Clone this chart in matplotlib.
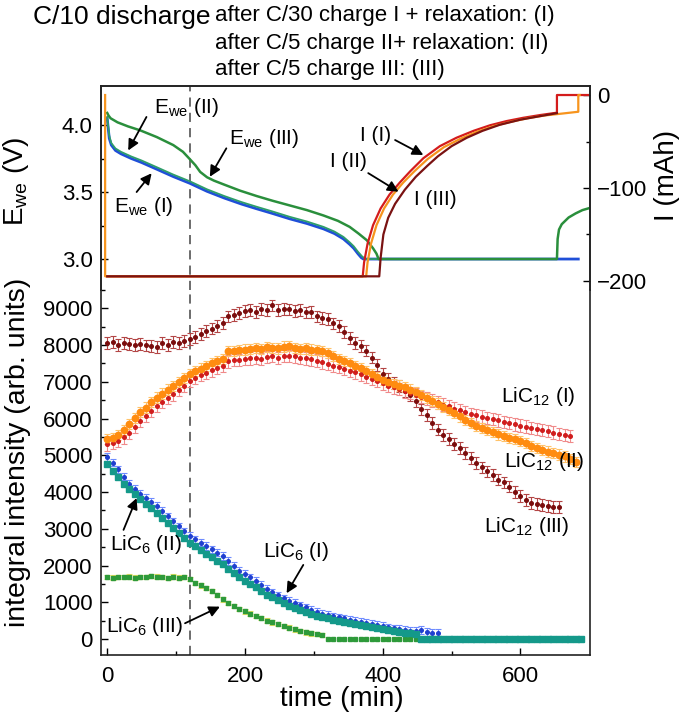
import numpy as np
import matplotlib
matplotlib.use("Agg")
import matplotlib.pyplot as plt

plt.rcParams['font.family'] = ['Liberation Sans', 'DejaVu Sans']
plt.rcParams['mathtext.fontset'] = 'custom'
plt.rcParams['mathtext.rm'] = 'Liberation Sans'
plt.rcParams['mathtext.it'] = 'Liberation Sans:italic'

# ---------------- top panel: potential (V) ----------------
t_E1 = [0, 1, 3, 6, 12, 20, 35, 50, 72, 96, 120, 145, 170, 195, 217, 240, 265, 290, 314,
        330, 343, 352, 358, 364, 369, 372, 450, 550, 650, 684]
E_I = [4.05, 4.00, 3.90, 3.85, 3.81, 3.785, 3.75, 3.72, 3.67, 3.615, 3.565, 3.505, 3.455,
       3.41, 3.375, 3.34, 3.30, 3.265, 3.225, 3.19, 3.15, 3.11, 3.08, 3.04, 3.01, 3.0,
       3.0, 3.0, 3.0, 3.0]
t_E2 = [0, 1, 3, 6, 12, 20, 35, 50, 72, 96, 120, 145, 170, 195, 217, 240, 265, 290, 314,
        330, 343, 352, 358, 364, 370, 375, 450, 550, 650]
E_II = [4.06, 4.01, 3.92, 3.865, 3.825, 3.80, 3.765, 3.735, 3.685, 3.63, 3.58, 3.52, 3.47,
        3.425, 3.39, 3.355, 3.315, 3.28, 3.24, 3.205, 3.165, 3.125, 3.095, 3.055, 3.02, 3.0,
        3.0, 3.0, 3.0]
t_E3 = [0, 2, 5, 15, 30, 48, 72, 96, 110, 120, 128, 135, 145, 155, 170, 193, 217, 240, 265,
        290, 314, 335, 352, 365, 377, 386, 391, 394, 450, 550, 653, 654, 656, 660, 670, 680,
        690, 700]
E_III = [4.09, 4.07, 4.05, 4.02, 3.99, 3.96, 3.91, 3.85, 3.80, 3.745, 3.70, 3.65, 3.61, 3.585,
         3.555, 3.51, 3.47, 3.435, 3.40, 3.365, 3.325, 3.285, 3.24, 3.19, 3.14, 3.08, 3.04,
         3.0, 3.0, 3.0, 3.0, 3.15, 3.22, 3.26, 3.31, 3.34, 3.365, 3.38]

# ---------------- top panel: current (mAh) ----------------
t_I1 = [0, 371, 373, 378, 386, 397, 410, 425, 440, 459, 483, 507, 532, 556, 580, 604, 629,
        653, 653, 698]
I_I = [-195, -195, -180, -160, -140, -122, -107, -94, -82, -68, -55, -46, -38.5, -32.5, -28,
       -24.5, -21.5, -19, 0, 0]
t_I2 = [-3, -3, 376, 378, 383, 391, 402, 415, 430, 446, 465, 489, 513, 537, 561, 585, 610,
        635, 660, 684, 684, 686]
I_II = [0, -195, -195, -180, -160, -140, -122, -107, -94, -82, -69, -56, -47, -39.5, -33.5,
        -29, -25, -22, -20, -18, 0, 0]
t_I3 = [0, 395, 397, 401, 408, 418, 432, 448, 465, 480, 500, 522, 545, 570, 600, 630, 653]
I_III = [-195, -195, -175, -150, -132, -117, -102, -88, -76, -66, -55, -46, -38.5, -32,
         -26.5, -22.5, -19.5]

# ---------------- bottom panel: integral intensities ----------------
t_c12_III = np.arange(0, 657, 8)
c12_III = [8050, 8080, 8000, 8060, 8020, 8010, 8040, 7990, 7980, 7950, 8060, 8000, 8090, 8050,
           8120, 8170, 8230, 8300, 8390, 8450, 8520, 8600, 8780, 8820, 8880, 8920, 8950, 8900,
           8980, 8960, 9080, 8960, 8990, 8970, 8920, 8950, 8890, 8900, 8780, 8740, 8720, 8590,
           8520, 8350, 8200, 8050, 7980, 7850, 7660, 7450, 7220, 7090, 6960, 6880, 6750, 6650,
           6480, 6250, 6100, 5880, 5700, 5560, 5450, 5300, 5200, 5060, 4920, 4800, 4670, 4560,
           4460, 4340, 4260, 4150, 4010, 3890, 3780, 3700, 3680, 3650, 3620, 3600, 3590]

t_c12_II = np.arange(0, 681, 8)
c12_II = [5450, 5480, 5560, 5680, 5850, 6020, 6180, 6300, 6450, 6570, 6680, 6790, 6890, 6990,
          7100, 7200, 7290, 7360, 7430, 7500, 7560, 7620, 7830, 7840, 7870, 7880, 7900, 7920,
          7900, 7950, 7930, 7910, 7960, 7980, 7930, 7900, 7910, 7880, 7860, 7830, 7780, 7700,
          7630, 7560, 7500, 7440, 7370, 7290, 7210, 7130, 7060, 6990, 6950, 6900, 6850, 6790,
          6720, 6640, 6560, 6480, 6410, 6320, 6240, 6150, 6060, 5960, 5880, 5800, 5740, 5680,
          5630, 5570, 5520, 5470, 5440, 5390, 5330, 5260, 5190, 5140, 5100, 5060, 5020, 4970,
          4890, 4810]

t_c12_I = np.arange(0, 673, 8)
c12_I = [5300, 5330, 5400, 5490, 5620, 5780, 5930, 6070, 6210, 6340, 6450, 6560, 6660, 6780,
         6900, 7020, 7100, 7180, 7250, 7310, 7370, 7430, 7560, 7600, 7590, 7630, 7640, 7660,
         7620, 7680, 7700, 7650, 7710, 7700, 7690, 7660, 7640, 7610, 7580, 7530, 7490, 7440,
         7400, 7350, 7300, 7260, 7200, 7140, 7080, 7020, 6960, 6900, 6850, 6800, 6740, 6700,
         6650, 6590, 6540, 6490, 6440, 6380, 6330, 6270, 6220, 6170, 6120, 6090, 6050, 6020,
         5990, 5950, 5910, 5880, 5840, 5810, 5780, 5740, 5710, 5690, 5660, 5620, 5580, 5550,
         5520]

t_c6_I = np.arange(0, 481, 8)
c6_I = [4950, 4800, 4620, 4420, 4230, 4090, 3960, 3840, 3730, 3620, 3480, 3340, 3200, 3070,
        2930, 2800, 2710, 2620, 2530, 2440, 2350, 2260, 2120, 1990, 1860, 1770, 1680, 1590,
        1480, 1370, 1270, 1190, 1110, 1040, 980, 920, 860, 800, 740, 680, 650, 620, 590, 560,
        530, 500, 470, 440, 410, 380, 350, 320, 290, 270, 250, 230, 220, 240, 190, 170, 160]

t_c6_II = np.arange(0, 689, 8)
c6_II = [4750, 4580, 4400, 4230, 4080, 3940, 3800, 3680, 3560, 3440, 3300, 3160, 3020, 2890,
         2750, 2620, 2520, 2420, 2320, 2220, 2120, 2030, 1910, 1790, 1680, 1590, 1500, 1410,
         1310, 1210, 1130, 1050, 970, 900, 850, 790, 740, 680, 630, 590, 560, 530, 500, 470,
         440, 410, 380, 350, 320, 300, 270, 240, 210, 190, 170, 150, 130, 0,
         0, 0, 0, 0, 0, 0, 0, 0, 0, 0, 0, 0, 0, 0, 0, 0, 0, 0, 0, 0, 0, 0, 0, 0, 0, 0, 0, 0, 0]

t_c6_III = np.arange(0, 457, 8)
c6_III = [1680, 1670, 1690, 1680, 1700, 1670, 1690, 1680, 1710, 1700, 1680, 1660, 1700, 1670,
          1680, 1640, 1520, 1460, 1390, 1300, 1190, 1080, 980, 900, 810, 750, 690, 630, 570,
          500, 450, 400, 350, 310, 260, 220, 180, 150, 130, 110,
          0, 0, 0, 0, 0, 0, 0, 0, 0, 0, 0, 0, 0, 0, 0, 0, 0, 0]

err_c12_I = 170
err_c12_II = 140
err_c12_III = 160
err_c6_I = 100
err_c6_III = 60

# ---------------- figure ----------------
W, H = 685, 721
fig = plt.figure(figsize=(W / 100, H / 100), dpi=100)

def fx(px):
    return px / W

def fy(py):
    return 1 - py / H

x0, x1 = 101, 590
y_top, y_mid, y_bot = 86, 290, 655
ax_t = fig.add_axes([fx(x0), fy(y_mid), fx(x1 - x0), (y_mid - y_top) / H])
ax_b = fig.add_axes([fx(x0), fy(y_bot), fx(x1 - x0), (y_bot - y_mid) / H], sharex=ax_t)
ax_i = ax_t.twinx()

XL = (-9, 701)
ax_b.set_xlim(*XL)
ax_t.set_ylim(2.769, 4.291)
ax_i.set_ylim(-209.7, 9.7)
ax_b.set_ylim(-436, 9463)

# styling
TL = 16
for a in (ax_t, ax_b, ax_i):
    for s in a.spines.values():
        s.set_linewidth(1.2)
        s.set_color('#222222')
ax_t.spines['bottom'].set_visible(False)
ax_i.spines['bottom'].set_visible(False)
ax_b.spines['top'].set_visible(False)

ax_t.tick_params(axis='x', which='both', bottom=False, top=False, labelbottom=False)
ax_t.tick_params(axis='y', which='major', direction='in', length=5, width=1, labelsize=TL, pad=6)
ax_t.tick_params(axis='y', which='minor', direction='in', length=3, width=1)
ax_t.set_yticks([3.0, 3.5, 4.0])
ax_t.set_yticklabels(['3.0', '3.5', '4.0'])
ax_t.set_yticks([3.25, 3.75], minor=True)

ax_i.set_yticks([0, -100, -200])
ax_i.set_yticks([-50, -150], minor=True)
ax_i.tick_params(axis='y', which='major', direction='in', length=5, width=1, labelsize=TL, pad=5)
ax_i.tick_params(axis='y', which='minor', direction='in', length=3, width=1)

ax_b.set_xticks([0, 200, 400, 600])
ax_b.set_xticks([100, 300, 500], minor=True)
ax_b.set_yticks(np.arange(0, 9001, 1000))
ax_b.set_yticks(np.arange(500, 9600, 1000), minor=True)
ax_b.tick_params(which='major', direction='in', length=5, width=1, labelsize=TL, pad=6)
ax_b.tick_params(which='minor', direction='in', length=3, width=1)
ax_b.tick_params(axis='x', pad=8)

# dashed line
for a in (ax_t, ax_b):
    a.axvline(120, color='#444444', lw=1.1, ls=(0, (6, 4)), zorder=1)

# potential lines
ax_t.plot(t_E1, E_I, color='#1f4fd8', lw=2.0, zorder=3)
ax_t.plot(t_E2, E_II, color='#2e9e6a', lw=1.3, zorder=3)
ax_t.plot(t_E3, E_III, color='#2a8f3c', lw=1.8, zorder=4)

# current lines
ax_i.plot(t_I1, I_I, color='#d41c1c', lw=1.6, zorder=3)
ax_i.plot(t_I2, I_II, color='#f7941d', lw=1.6, zorder=3)
ax_i.plot(t_I3, I_III, color='#7a1212', lw=1.6, zorder=3)

# intensities
def series(t, v, err, mc, ec, ms, marker='o', zo=3):
    t = np.asarray(t)
    v = np.asarray(v, dtype=float)
    pos = v > 0
    if err:
        ax_b.errorbar(t[pos], v[pos], yerr=err, fmt='none', ecolor=ec, elinewidth=0.8,
                      capsize=2.5, capthick=0.8, zorder=zo)
    ax_b.plot(t, v, ls='none', marker=marker, ms=ms, mfc=mc, mec=mc, zorder=zo + 0.5)

series(t_c12_III, c12_III, err_c12_III, '#7a0c0c', '#b34545', 2.6)
series(t_c12_I, c12_I, err_c12_I, '#d01c1c', '#f08a8a', 2.6)
series(t_c12_II, c12_II, err_c12_II, '#ff8c10', '#ffc36a', 4.6)
series(t_c6_I, c6_I, err_c6_I, '#1f3fd0', '#6f8cff', 2.6)
series(t_c6_III, c6_III, err_c6_III, '#2e9a3a', '#e6e060', 2.4, marker='s')
series(t_c6_II, c6_II, 0, '#14998a', '#14998a', 4.8, marker='s')

# annotations
AFS = 15
arrow = dict(arrowstyle='-|>', color='black', lw=1.3, mutation_scale=16,
             shrinkA=0, shrinkB=0)

def ann(ax, tail, head):
    ax.annotate('', xy=head, xytext=tail, arrowprops=arrow, zorder=10)

ax_t.text(115, 4.13, 'E$_{\\mathrm{we}}$ (II)', fontsize=AFS, ha='center', va='center', zorder=10)
ann(ax_t, (57, 4.06), (30.5, 3.81))
ax_t.text(228, 3.90, 'E$_{\\mathrm{we}}$ (III)', fontsize=AFS, ha='center', va='center', zorder=10)
ann(ax_t, (173, 3.826), (149, 3.614))
ax_t.text(53, 3.395, 'E$_{\\mathrm{we}}$ (I)', fontsize=AFS, ha='center', va='center', zorder=10)
ann(ax_t, (42.7, 3.50), (64.5, 3.64))

ax_i.text(390, -43, 'I (I)', fontsize=AFS, ha='center', va='center', zorder=10)
ann(ax_i, (418, -48.4), (459, -64.5))
ax_i.text(350, -72, 'I (II)', fontsize=AFS, ha='center', va='center', zorder=10)
ann(ax_i, (379, -84), (423, -104))
ax_i.text(476, -112, 'I (III)', fontsize=AFS, ha='center', va='center', zorder=10)

ax_b.text(626, 6594, 'LiC$_{12}$ (I)', fontsize=AFS, ha='center', va='center', zorder=10)
ax_b.text(634, 4823, 'LiC$_{12}$ (II)', fontsize=AFS, ha='center', va='center', zorder=10)
ax_b.text(609, 3052, 'LiC$_{12}$ (III)', fontsize=AFS, ha='center', va='center', zorder=10)
ax_b.text(56, 2561, 'LiC$_{6}$ (II)', fontsize=AFS, ha='center', va='center', zorder=10)
ann(ax_b, (23.7, 2970), (42.7, 3834))
ax_b.text(275, 2371, 'LiC$_{6}$ (I)', fontsize=AFS, ha='center', va='center', zorder=10)
ann(ax_b, (284.7, 2016), (260.5, 1245))
ax_b.text(55, 327, 'LiC$_{6}$ (III)', fontsize=AFS, ha='center', va='center', zorder=10)
ann(ax_b, (113, 428), (163.7, 880))

# axis labels
LFS = 20
fig.text(fx(342), fy(699), 'time (min)', fontsize=LFS, ha='center', va='center')
fig.text(fx(18), fy(452), 'integral intensity (arb. units)', fontsize=20.5, rotation=90,
         ha='center', va='center')
fig.text(fx(16), fy(181), 'E$_{\\mathrm{we}}$ (V)', fontsize=LFS, rotation=90,
         ha='center', va='center')
fig.text(fx(667), fy(175), 'I (mAh)', fontsize=LFS, rotation=90, ha='center', va='center')

# header
fig.text(fx(33), fy(17), 'C/10 discharge', fontsize=19, ha='left', va='center')
fig.text(fx(215), fy(15), 'after C/30 charge I + relaxation: (I)', fontsize=16,
         ha='left', va='center')
fig.text(fx(215), fy(43), 'after C/5 charge II+ relaxation: (II)', fontsize=16,
         ha='left', va='center')
fig.text(fx(215), fy(69), 'after C/5 charge III: (III)', fontsize=16,
         ha='left', va='center')

fig.savefig('out.png', dpi=100)
